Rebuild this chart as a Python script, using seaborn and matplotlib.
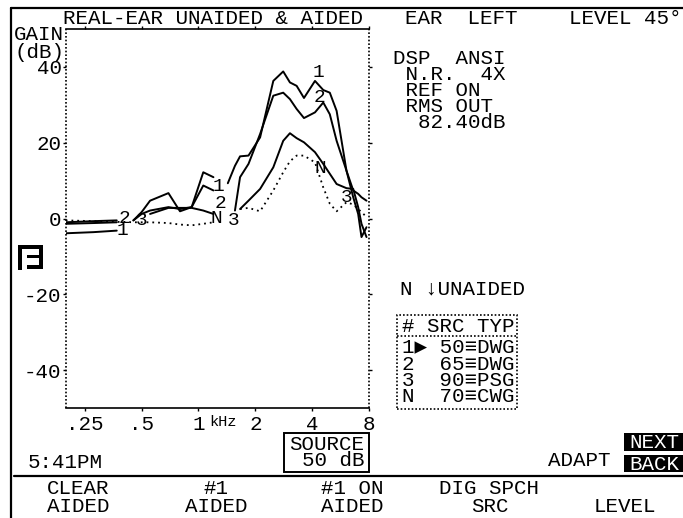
import numpy as np
import pandas as pd
import matplotlib
matplotlib.use("Agg")
import matplotlib.pyplot as plt
from matplotlib.lines import Line2D
from matplotlib.patches import Rectangle
from matplotlib.ticker import NullLocator
import seaborn as sns

nan = float("nan")
freq_khz = [0.198, 0.278, 0.369, 0.409, 0.452, 0.50, 0.554, 0.693, 0.798, 0.920, 1.06, 1.20, 1.30, 1.43, 1.56,
            1.66, 1.84, 2.12, 2.49, 2.81, 3.05, 3.31, 3.62, 4.14, 4.58, 4.96, 5.39, 6.08, 6.6, 7.01, 7.3, 7.76]
curve_1 = [-3.9, -3.6, -3.2, nan, -0.5, 1.7, 4.7, 6.7, 1.9, 3.0, 12.2, 10.9, nan, 9.3, 13.9,
           16.4, 16.6, 21.4, 36.3, 38.8, 35.9, 35.0, 31.8, 36.3, 33.9, 33.2, 28.4, 12.6, 7.4, 6.5, 5.6, 4.7]
curve_2 = [-1.4, -1.2, -1.0, nan, -0.5, 1.2, 2.1, 3.0, 2.5, 3.0, 8.7, 7.4, nan, nan, 2.1,
           10.9, 14.4, 22.3, 32.4, 33.2, 31.5, 28.9, 26.5, 28.0, 30.6, 27.5, 20.5, 12.6, 5.6, 1.2, -4.9, -2.3]
curve_3 = [-1.0, -0.7, -0.5, nan, nan, nan, 1.2, 2.8, 2.8, 2.8, 2.1, 1.2, nan, nan, nan,
           2.5, 4.7, 7.8, 13.5, 20.5, 22.5, 21.2, 20.1, 17.5, 14.4, 11.8, 9.1, 8.0, 7.8, 3.0, -1.4, -4.9]
curve_n = [-0.5, -0.7, -0.9, -0.9, -1.0, -1.0, -1.0, -1.2, -1.6, -1.8, -1.4, -1.0, nan, nan, nan,
           2.5, 2.8, 1.9, 7.4, 12.2, 15.1, 16.6, 16.6, 14.8, 8.2, 3.9, 1.9, 4.3, 3.7, 2.5, 1.7, 0.4]

mark_text = ["1", "1", "1", "2", "2", "2", "3", "3", "3", "N", "N"]
mark_khz = [4.31, 1.27, 0.397, 0.404, 4.40, 1.30, 0.50, 1.53, 6.08, 1.25, 4.40]
mark_gain = [38.5, 8.5, -3.2, -0.1, 32.0, 3.9, -0.5, -0.5, 5.6, 0.0, 13.2]

x_ticks = [0.25, 0.5, 1, 2, 4, 8]
x_labels = [".25", ".5", "1", "2", "4", "8"]
y_ticks = [-40, -20, 0, 20, 40]
y_labels = ["-40", "-20", "0", "20", "40"]

legend_rows = ["# SRC TYP", "1▶ 50≡DWG", "2  65≡DWG", "3  90≡PSG", "N  70≡CWG"]
info_lines = ["DSP  ANSI", " N.R.  4X", " REF ON", " RMS OUT", "  82.40dB"]

sns.set_theme(style="white")
FONT = ["Liberation Mono", "DejaVu Sans Mono"]
plt.rcParams["font.family"] = FONT
W, H = 683, 518
fig = plt.figure(figsize=(W / 100, H / 100), dpi=100, facecolor="white")
ax = fig.add_axes([65.7 / W, 1 - 408 / H, (369 - 65.7) / W, (408 - 29) / H])
ax.set_xscale("log", base=2)


def series_frame(values):
    df = pd.DataFrame({"khz": freq_khz, "gain": values})
    df["seg"] = df["gain"].isna().cumsum()
    return df.dropna()


for vals in (curve_1, curve_2, curve_3):
    sns.lineplot(data=series_frame(vals), x="khz", y="gain", units="seg", estimator=None,
                 color="black", lw=1.4, ax=ax)
sns.lineplot(data=series_frame(curve_n), x="khz", y="gain", units="seg", estimator=None,
             color="black", lw=1.3, linestyle=(0, (1, 2.2)), ax=ax)

for t, fx, gy in zip(mark_text, mark_khz, mark_gain):
    ax.text(fx, gy, t, ha="center", va="center", fontsize=14, color="black")

ax.set_xlim(0.198, 8)
ax.set_ylim(-50, 50)
ax.set_xlabel("")
ax.set_ylabel("")
ax.set_xticks(x_ticks)
ax.set_xticklabels(x_labels)
ax.xaxis.set_minor_locator(NullLocator())
ax.set_yticks(y_ticks)
ax.set_yticklabels(y_labels)
ax.tick_params(axis="x", which="major", direction="out", length=2, width=1, pad=3, labelsize=15,
               top=True, bottom=True, colors="black")
ax.tick_params(axis="y", which="major", direction="out", length=2, width=1, pad=1, labelsize=15,
               left=True, right=True, colors="black")
for s in ("top", "bottom"):
    ax.spines[s].set_linewidth(1.2)
    ax.spines[s].set_color("black")
for s in ("left", "right"):
    ax.spines[s].set_linewidth(1.2)
    ax.spines[s].set_color("black")
    ax.spines[s].set_linestyle((0, (1, 1.2)))
    ax.spines[s].set_capstyle("butt")
ax.patch.set_alpha(0)


def put(x, y, s, size=15, ha="left", color="black"):
    fig.text(x / W, 1 - y / H, s, ha=ha, va="center", fontsize=size, color=color, family=FONT)


def hline(x0, x1, y, lw=1.4, ls="-"):
    fig.add_artist(Line2D([x0 / W, x1 / W], [1 - y / H, 1 - y / H], color="black", lw=lw, ls=ls))


def rect(x0, y0, x1, y1, **kw):
    fig.add_artist(Rectangle((x0 / W, 1 - y1 / H), (x1 - x0) / W, (y1 - y0) / H,
                             transform=fig.transFigure, **kw))


# screen frame
hline(11, 683, 8, lw=1.6)
fig.add_artist(Line2D([11 / W, 11 / W], [1 - 8 / H, 0], color="black", lw=1.6))
hline(14, 683, 476, lw=1.6)

put(63, 19, "REAL-EAR UNAIDED & AIDED")
put(405, 19, "EAR  LEFT")
put(569, 19, "LEVEL 45°")
put(14, 35, "GAIN")
put(14, 52, "(dB)")
for i, line in enumerate(info_lines):
    put(393, 58 + i * 16.2, line)
put(209, 422, "kHz", size=11)

# logo
for box in [(18, 245, 22, 270), (18, 245, 43, 249), (27, 255, 43, 258), (27, 265, 43, 269), (39, 245, 43, 269)]:
    rect(*box, facecolor="black", edgecolor="none")

put(400, 289, "N ↓UNAIDED")
rect(397, 315, 517, 409, facecolor="none", edgecolor="black", lw=1.2, ls=(0, (1, 1.2)))
hline(397, 517, 336, lw=1.2, ls=(0, (1, 1.2)))
for y, row in zip([327, 347, 364, 380, 397], legend_rows):
    put(402, y, row)

put(28, 462, "5:41PM")
rect(284, 433, 369, 472, facecolor="none", edgecolor="black", lw=1.4)
put(289, 444, "SOURCE")
put(302, 461, "50 dB")
put(548, 461, "ADAPT")
rect(624, 433, 683, 451, facecolor="black", edgecolor="none")
rect(624, 455, 683, 472, facecolor="black", edgecolor="none")
put(654, 442, "NEXT", ha="center", color="white")
put(654, 464, "BACK", ha="center", color="white")

put(47, 488, "CLEAR")
put(47, 507, "AIDED")
put(203, 488, "#1")
put(185, 507, "AIDED")
put(321, 488, "#1 ON")
put(321, 507, "AIDED")
put(439, 488, "DIG SPCH")
put(471, 507, "SRC")
put(594, 507, "LEVEL")

fig.savefig("out.png", dpi=100, facecolor="white")
